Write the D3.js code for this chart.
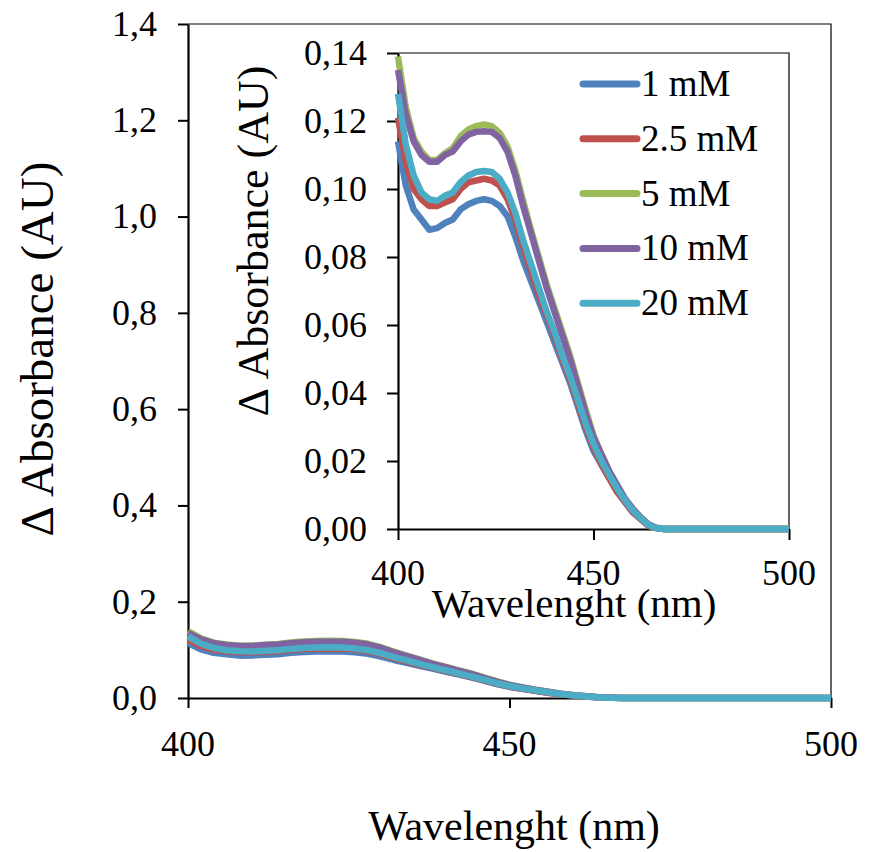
<!DOCTYPE html>
<html>
<head>
<meta charset="utf-8">
<script src="https://cdn.jsdelivr.net/npm/d3@7"></script>
</head>
<body style="margin:0;padding:0;background:#fff">
<svg id="chart" width="875" height="852" style="display:block"></svg>
<script>
// ---------- data ----------
const wavelengths = d3.range(400, 501, 2);
const seriesNames = ["1 mM", "2.5 mM", "5 mM", "10 mM", "20 mM"];
const seriesColors = ["#4F81BD", "#C0504D", "#9BBB59", "#8064A2", "#4BACC6"];
const zeros17 = [0,0,0,0,0,0,0,0,0,0,0,0,0,0,0,0,0];
const s1mM = [0.114,0.101,0.094,0.091,0.088,0.0885,0.090,0.091,0.094,0.0955,0.0965,0.097,0.0965,0.095,0.092,0.086,0.079,0.073,0.067,0.061,0.055,0.049,0.043,0.036,0.029,0.023,0.019,0.015,0.011,0.008,0.005,0.003,0.001,0.0003].concat(zeros17);
const s2_5mM = [0.121,0.108,0.100,0.097,0.095,0.095,0.096,0.097,0.100,0.102,0.1025,0.103,0.1025,0.101,0.097,0.091,0.083,0.076,0.069,0.063,0.057,0.050,0.044,0.037,0.030,0.024,0.019,0.015,0.011,0.008,0.005,0.003,0.001,0.0003].concat(zeros17);
const s5mM = [0.139,0.124,0.115,0.111,0.1085,0.1085,0.1105,0.112,0.1155,0.1175,0.1185,0.119,0.1185,0.1165,0.1125,0.1055,0.0965,0.088,0.080,0.072,0.065,0.058,0.051,0.043,0.035,0.0275,0.022,0.017,0.013,0.009,0.006,0.0035,0.0014,0.0004].concat(zeros17);
const s10mM = [0.135,0.122,0.114,0.110,0.108,0.108,0.110,0.111,0.114,0.116,0.1168,0.117,0.1168,0.115,0.111,0.104,0.095,0.087,0.079,0.071,0.064,0.057,0.050,0.042,0.034,0.027,0.022,0.017,0.013,0.009,0.006,0.0035,0.0014,0.0004].concat(zeros17);
const s20mM = [0.128,0.113,0.104,0.099,0.097,0.0965,0.098,0.099,0.102,0.104,0.105,0.1053,0.105,0.103,0.099,0.093,0.085,0.078,0.071,0.064,0.058,0.051,0.045,0.038,0.031,0.025,0.020,0.016,0.012,0.0085,0.0055,0.0032,0.0012,0.0003].concat(zeros17);
const seriesValues = [s1mM, s2_5mM, s5mM, s10mM, s20mM];

const mainYTicks = [0, 0.2, 0.4, 0.6, 0.8, 1.0, 1.2, 1.4];
const insetYTicks = [0, 0.02, 0.04, 0.06, 0.08, 0.10, 0.12, 0.14];
const xTicks = [400, 450, 500];
const xTitle = "Wavelenght (nm)";
const yTitle = "\u0394 Absorbance (AU)";

// ---------- drawing ----------
const FONT = "'Liberation Serif', serif";
const svg = d3.select("#chart");
const comma = f => v => d3.format(f)(v).replace(".", ",");

function addText(parent, txt, size, anchor) {
  return parent.append("text").attr("font-family", FONT).attr("font-size", size)
    .attr("text-anchor", anchor).attr("fill", "#000").text(txt);
}

function panel(cfg) {
  const g = svg.append("g");
  const x = d3.scaleLinear().domain([400, 500]).range([cfg.x0, cfg.x1]);
  const y = d3.scaleLinear().domain(cfg.yDomain).range([cfg.y0, cfg.y1]);

  if (cfg.bg) {
    g.append("rect").attr("x", cfg.bg[0]).attr("y", cfg.bg[1])
      .attr("width", cfg.bg[2]).attr("height", cfg.bg[3]).attr("fill", "#fff");
  }
  g.append("path")
    .attr("d", `M${cfg.x0},${cfg.y1}H${cfg.x1}V${cfg.y0}`)
    .attr("fill", "none").attr("stroke", "#000").attr("stroke-width", 1.2);

  const yAxis = g.append("g").attr("transform", `translate(${cfg.x0},0)`)
    .call(d3.axisLeft(y).tickValues(cfg.yTicks).tickFormat("").tickSize(cfg.tick).tickSizeOuter(0));
  const xAxis = g.append("g").attr("transform", `translate(0,${cfg.y0})`)
    .call(d3.axisBottom(x).tickValues(xTicks).tickFormat("").tickSize(cfg.tick).tickSizeOuter(0));
  [yAxis, xAxis].forEach(a => {
    a.selectAll("text").remove();
    a.select(".domain").attr("stroke", "#000").attr("stroke-width", 2.2);
    a.selectAll(".tick line").attr("stroke", "#000").attr("stroke-width", 2);
  });
  const fy = comma(cfg.yFmt);
  cfg.yTicks.forEach(v => {
    addText(g, fy(v), cfg.tickFont, "end")
      .attr("x", cfg.x0 - cfg.tick - cfg.yPad).attr("y", y(v)).attr("dy", "0.33em");
  });
  xTicks.forEach(v => {
    addText(g, String(v), cfg.tickFont, "middle")
      .attr("x", x(v)).attr("y", cfg.xLabY);
  });

  const line = d3.line().x((d, i) => x(wavelengths[i])).y(d => y(d));
  [0, 1, 2, 3, 4].forEach(k => {
    g.append("path").datum(seriesValues[k])
      .attr("d", line).attr("fill", "none")
      .attr("stroke", seriesColors[k]).attr("stroke-width", cfg.lw)
      .attr("stroke-linejoin", "round").attr("stroke-linecap", "butt");
  });

  addText(g, xTitle, cfg.xTitleFont, "middle").attr("x", cfg.xtX).attr("y", cfg.xtY);
  addText(g, yTitle, cfg.yTitleFont, "middle")
    .attr("transform", `translate(${cfg.ytX},${cfg.ytY}) rotate(-90)`);
  return { g, x, y };
}

// main chart
panel({ x0: 188, x1: 831, y0: 698, y1: 24, yDomain: [0, 1.4], yTicks: mainYTicks, yFmt: ".1f",
  tick: 10, yPad: 21, xLabY: 756, tickFont: 36, lw: 6.5, xTitleFont: 42, yTitleFont: 47,
  xtX: 514, xtY: 840, ytX: 53, ytY: 349 });

// inset
panel({ x0: 398, x1: 789, y0: 529, y1: 53, yDomain: [0, 0.14], yTicks: insetYTicks, yFmt: ".2f",
  tick: 11, yPad: 20, xLabY: 585, tickFont: 36, lw: 6.5, xTitleFont: 41, yTitleFont: 44,
  bg: [230, 40, 600, 590],
  xtX: 574, xtY: 617, ytX: 268, ytY: 241 });

// legend
const legend = svg.append("g");
seriesNames.forEach((name, i) => {
  const ly = 84 + i * 54.8;
  legend.append("line").attr("x1", 583).attr("x2", 637).attr("y1", ly).attr("y2", ly)
    .attr("stroke", seriesColors[i]).attr("stroke-width", 7).attr("stroke-linecap", "round");
  addText(legend, name, 37, "start").attr("x", 641).attr("y", ly + 12);
});
</script>
</body>
</html>
